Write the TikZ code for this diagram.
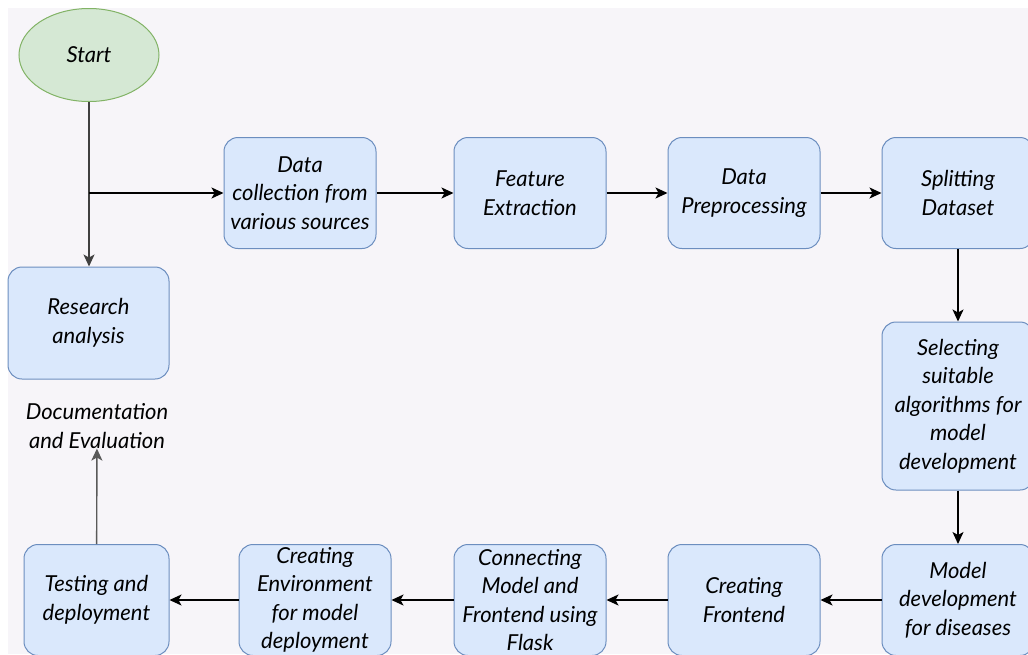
\documentclass[tikz,border=0pt]{standalone}
\usepackage{fontspec}
\setmainfont{Lato}
\usetikzlibrary{positioning, shapes.geometric, arrows.meta}
\definecolor{boxfill}{HTML}{DAE8FC}
\definecolor{boxline}{HTML}{6C8EBF}
\definecolor{startfill}{HTML}{D5E8D4}
\definecolor{startline}{HTML}{82B366}
\definecolor{pagebg}{HTML}{F7F5F9}
\begin{document}
\begin{tikzpicture}[x=1pt, y=-1pt,
			stepbox/.style={draw=boxline, fill=boxfill, rectangle, rounded corners=14pt, line width=1pt,
				minimum width=152pt, minimum height=111pt, inner sep=0pt, align=center,
				font=\itshape\fontsize{22}{28.5}\selectfont},
			startnode/.style={draw=startline, fill=startfill, ellipse, line width=1pt,
				minimum width=140pt, minimum height=93pt, font=\itshape\fontsize{22}{28.5}\selectfont},
			plain/.style={align=center, inner sep=0pt, font=\itshape\fontsize{22}{28.5}\selectfont},
			flow/.style={draw, line width=1.4pt, -{Stealth[length=12pt, width=11pt, inset=3pt]}}]
			\useasboundingbox (0,0) rectangle (1028,654);
			\fill[white] (0,0) rectangle (1028,654);
			\fill[pagebg] (8,8) rectangle (1028,654);
			
			\node[startnode](start) at (89,55) {Start};
			\node[stepbox, minimum width=161pt, minimum height=112pt](research) at (88.5,323) {Research\\analysis};
			\node[plain](docu) at (97,426) {Documentation\\and Evaluation};
			
			\node[stepbox](collect) at (300,193) {Data\\collection from\\various sources};
			\node[stepbox](feature) at (530,193) {Feature\\Extraction};
			\node[stepbox](preproc) at (744,193) {Data\\Preprocessing};
			\node[stepbox](split) at (958,193) {Splitting\\Dataset};
			\node[stepbox, minimum height=168pt](select) at (958,406) {Selecting\\suitable\\algorithms for\\model\\development};
			\node[stepbox](modeldev) at (958,600) {Model\\development\\for diseases};
			\node[stepbox](frontend) at (744,600) {Creating\\Frontend};
			\node[stepbox](connect) at (530,600) {Connecting\\Model and\\Frontend using\\Flask};
			\node[stepbox](environ) at (315,600) {Creating\\Environment\\for model\\deployment};
			\node[stepbox, minimum width=145pt](testing) at (96.5,600) {Testing and\\deployment};
			
			\coordinate (fork) at (start.south |- collect.west);
			\draw[flow, draw=black!75] (start.south) -- (start.south |- research.north);
			\draw[flow] (fork) -- (collect);
			\draw[flow] (collect) -- (feature);
			\draw[flow] (feature) -- (preproc);
			\draw[flow] (preproc) -- (split);
			\draw[flow] (split) -- (select);
			\draw[flow] (select) -- (modeldev);
			\draw[flow] (modeldev) -- (frontend);
			\draw[flow] (frontend) -- (connect);
			\draw[flow] (connect) -- (environ);
			\draw[flow] (environ) -- (testing);
			\draw[flow, draw=black!65] (testing) -- (docu);
			
		\end{tikzpicture}
\end{document}
